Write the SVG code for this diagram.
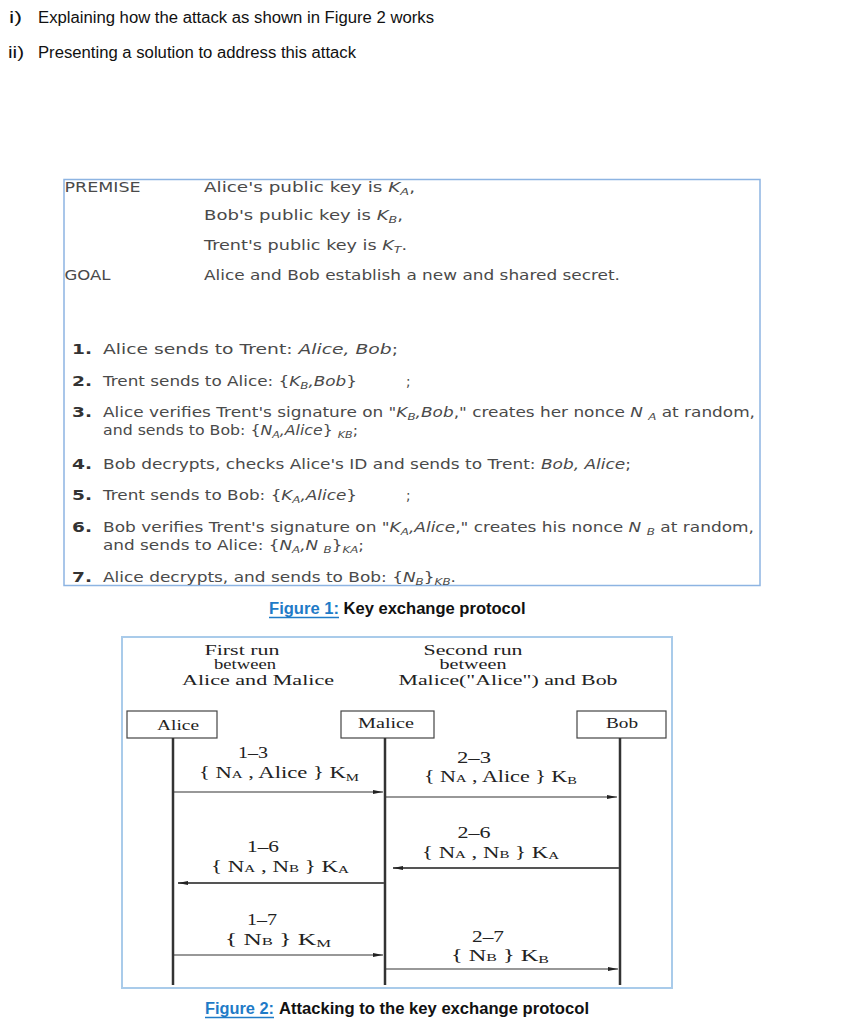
<svg xmlns="http://www.w3.org/2000/svg" width="851" height="1024" viewBox="0 0 851 1024">
<style>
.top{font-family:"Liberation Sans",Arial,sans-serif;font-size:16px;fill:#111}
.f1{font-family:"DejaVu Sans",Verdana,sans-serif;font-size:13.5px;fill:#4a4a4a}
.num{font-family:"DejaVu Sans",Verdana,sans-serif;font-size:13.5px;font-weight:bold;fill:#333}
.it{font-style:italic}
.s1{font-size:9.5px}
.cap{font-family:"Liberation Sans",Arial,sans-serif;font-size:16px;font-weight:bold;fill:#111}
.capb{fill:#1F7BC7}
.f2{font-family:"Liberation Serif","Times New Roman",serif;font-size:14.5px;fill:#222}
.lab{font-family:"Liberation Serif","Times New Roman",serif;font-size:16px;fill:#222}
.s2{font-size:10.5px}
.frame1{fill:none;stroke:#8DB4E2;stroke-width:1.5}
.frame2{fill:none;stroke:#A9CBEA;stroke-width:2}
.box{fill:#fff;stroke:#444;stroke-width:1.2}
.life{stroke:#333;stroke-width:2.5}
.msg{stroke:#333;stroke-width:1.2;fill:none}
.msgb{stroke:#555;stroke-width:1.8;fill:none}
</style>
<defs>
<marker id="ah" markerUnits="userSpaceOnUse" markerWidth="10" markerHeight="6" refX="10" refY="3" orient="auto">
<path d="M0,1 L10,3 L0,5 z" fill="#222"/>
</marker>
</defs>
<rect width="851" height="1024" fill="#fff"/>

<g id="intro">
<text class="top" x="9" y="23" textLength="13" lengthAdjust="spacingAndGlyphs">i)</text>
<text class="top" x="38" y="23" textLength="396" lengthAdjust="spacingAndGlyphs">Explaining how the attack as shown in Figure 2 works</text>
<text class="top" x="8" y="58" textLength="16" lengthAdjust="spacingAndGlyphs">ii)</text>
<text class="top" x="38" y="58" textLength="318" lengthAdjust="spacingAndGlyphs">Presenting a solution to address this attack</text>
</g>

<g id="figure1">
<rect class="frame1" x="64" y="179.5" width="696" height="406"/>
<text class="f1" x="64.5" y="192" textLength="76" lengthAdjust="spacingAndGlyphs">PREMISE</text>
<text class="f1" x="204" y="192" textLength="211" lengthAdjust="spacingAndGlyphs">Alice's public key is <tspan class="it">K</tspan><tspan class="it s1" dy="3">A</tspan><tspan dy="-3">,</tspan></text>
<text class="f1" x="204" y="220" textLength="199" lengthAdjust="spacingAndGlyphs">Bob's public key is <tspan class="it">K</tspan><tspan class="it s1" dy="3">B</tspan><tspan dy="-3">,</tspan></text>
<text class="f1" x="204" y="250" textLength="203" lengthAdjust="spacingAndGlyphs">Trent's public key is <tspan class="it">K</tspan><tspan class="it s1" dy="3">T</tspan><tspan dy="-3">.</tspan></text>
<text class="f1" x="64.5" y="280" textLength="46" lengthAdjust="spacingAndGlyphs">GOAL</text>
<text class="f1" x="204" y="280" textLength="416" lengthAdjust="spacingAndGlyphs">Alice and Bob establish a new and shared secret.</text>

<text class="num" x="72" y="354" textLength="20" lengthAdjust="spacingAndGlyphs">1.</text>
<text class="f1" x="103" y="354" textLength="295" lengthAdjust="spacingAndGlyphs">Alice sends to Trent: <tspan class="it">Alice, Bob</tspan>;</text>

<text class="num" x="72" y="386" textLength="20" lengthAdjust="spacingAndGlyphs">2.</text>
<text class="f1" x="103" y="386" textLength="254" lengthAdjust="spacingAndGlyphs">Trent sends to Alice: {<tspan class="it">K</tspan><tspan class="it s1" dy="3">B</tspan><tspan class="it" dy="-3">,Bob</tspan>}</text>
<text class="f1" x="406" y="386">;</text>

<text class="num" x="72" y="417" textLength="20" lengthAdjust="spacingAndGlyphs">3.</text>
<text class="f1" x="103" y="417" textLength="652" lengthAdjust="spacingAndGlyphs">Alice verifies Trent's signature on "<tspan class="it">K</tspan><tspan class="it s1" dy="3">B</tspan><tspan class="it" dy="-3">,Bob</tspan>," creates her nonce <tspan class="it">N </tspan><tspan class="it s1" dy="3">A</tspan><tspan dy="-3"> at random,</tspan></text>
<text class="f1" x="103" y="435" textLength="255" lengthAdjust="spacingAndGlyphs">and sends to Bob: {<tspan class="it">N</tspan><tspan class="it s1" dy="3">A</tspan><tspan class="it" dy="-3">,Alice</tspan>} <tspan class="it s1" dy="3">KB</tspan><tspan dy="-3">;</tspan></text>

<text class="num" x="72" y="469" textLength="20" lengthAdjust="spacingAndGlyphs">4.</text>
<text class="f1" x="103" y="469" textLength="528" lengthAdjust="spacingAndGlyphs">Bob decrypts, checks Alice's ID and sends to Trent: <tspan class="it">Bob, Alice</tspan>;</text>

<text class="num" x="72" y="500" textLength="20" lengthAdjust="spacingAndGlyphs">5.</text>
<text class="f1" x="103" y="500" textLength="254" lengthAdjust="spacingAndGlyphs">Trent sends to Bob: {<tspan class="it">K</tspan><tspan class="it s1" dy="3">A</tspan><tspan class="it" dy="-3">,Alice</tspan>}</text>
<text class="f1" x="406" y="500">;</text>

<text class="num" x="72" y="532" textLength="20" lengthAdjust="spacingAndGlyphs">6.</text>
<text class="f1" x="103" y="532" textLength="651" lengthAdjust="spacingAndGlyphs">Bob verifies Trent's signature on "<tspan class="it">K</tspan><tspan class="it s1" dy="3">A</tspan><tspan class="it" dy="-3">,Alice</tspan>," creates his nonce <tspan class="it">N </tspan><tspan class="it s1" dy="3">B</tspan><tspan dy="-3"> at random,</tspan></text>
<text class="f1" x="103" y="550" textLength="261" lengthAdjust="spacingAndGlyphs">and sends to Alice: {<tspan class="it">N</tspan><tspan class="it s1" dy="3">A</tspan><tspan class="it" dy="-3">,N </tspan><tspan class="it s1" dy="3">B</tspan><tspan dy="-3">}</tspan><tspan class="it s1" dy="3">KA</tspan><tspan dy="-3">;</tspan></text>

<text class="num" x="72" y="582" textLength="20" lengthAdjust="spacingAndGlyphs">7.</text>
<text class="f1" x="103" y="582" textLength="353" lengthAdjust="spacingAndGlyphs">Alice decrypts, and sends to Bob: {<tspan class="it">N</tspan><tspan class="it s1" dy="3">B</tspan><tspan dy="-3">}</tspan><tspan class="it s1" dy="3">KB</tspan><tspan dy="-3">.</tspan></text>
</g>

<g id="caption1">
<text class="cap capb" x="269" y="614" textLength="70" lengthAdjust="spacingAndGlyphs">Figure 1:</text>
<line x1="269" y1="617.5" x2="339" y2="617.5" stroke="#1F7BC7" stroke-width="1.3"/>
<text class="cap" x="343.5" y="614" textLength="182" lengthAdjust="spacingAndGlyphs">Key exchange protocol</text>
</g>

<g id="figure2-frame">
<rect class="frame2" x="122" y="637" width="550" height="351"/>
<text class="f2" x="242" y="655" text-anchor="middle" textLength="75" lengthAdjust="spacingAndGlyphs">First run</text>
<text class="f2" x="245" y="669" text-anchor="middle" textLength="62" lengthAdjust="spacingAndGlyphs">between</text>
<text class="f2" x="258" y="685" text-anchor="middle" textLength="152" lengthAdjust="spacingAndGlyphs">Alice and Malice</text>
<text class="f2" x="473" y="655" text-anchor="middle" textLength="99" lengthAdjust="spacingAndGlyphs">Second run</text>
<text class="f2" x="473" y="669" text-anchor="middle" textLength="67" lengthAdjust="spacingAndGlyphs">between</text>
<text class="f2" x="508" y="685" text-anchor="middle" textLength="219" lengthAdjust="spacingAndGlyphs">Malice("Alice") and Bob</text>
</g>

<g id="alice">
<rect class="box" x="127" y="711" width="90" height="27"/>
<text class="f2" x="178" y="730" text-anchor="middle" textLength="42" lengthAdjust="spacingAndGlyphs">Alice</text>
</g>
<g id="malice">
<rect class="box" x="341" y="711" width="93" height="27"/>
<text class="f2" x="386" y="728" text-anchor="middle" textLength="56" lengthAdjust="spacingAndGlyphs">Malice</text>
</g>
<g id="bob">
<rect class="box" x="577" y="711" width="89" height="27"/>
<text class="f2" x="622" y="728" text-anchor="middle" textLength="32" lengthAdjust="spacingAndGlyphs">Bob</text>
</g>

<g id="connectors">
<line class="life" x1="173" y1="738" x2="173" y2="985"/>
<line class="life" x1="385" y1="738" x2="385" y2="985"/>
<line class="life" x1="620" y1="738" x2="620" y2="985"/>
<line class="msg" x1="174" y1="792" x2="383" y2="792" marker-end="url(#ah)"/>
<line class="msg" x1="386" y1="797" x2="617" y2="797" marker-end="url(#ah)"/>
<line class="msgb" x1="619" y1="868" x2="393" y2="868" marker-end="url(#ah)"/>
<line class="msgb" x1="384" y1="883" x2="178" y2="883" marker-end="url(#ah)"/>
<line class="msg" x1="174" y1="955" x2="383" y2="955" marker-end="url(#ah)"/>
<line class="msg" x1="386" y1="969" x2="618" y2="969" marker-end="url(#ah)"/>

<text class="lab" x="253" y="758" text-anchor="middle" textLength="30" lengthAdjust="spacingAndGlyphs">1–3</text>
<text class="lab" x="199" y="778" textLength="160" lengthAdjust="spacingAndGlyphs">{ N<tspan class="s2">A</tspan> , Alice } K<tspan class="s2" dy="3">M</tspan></text>
<text class="lab" x="474" y="763" text-anchor="middle" textLength="34" lengthAdjust="spacingAndGlyphs">2–3</text>
<text class="lab" x="424" y="782" textLength="153" lengthAdjust="spacingAndGlyphs">{ N<tspan class="s2">A</tspan> , Alice } K<tspan class="s2" dy="2">B</tspan></text>
<text class="lab" x="474" y="838" text-anchor="middle" textLength="33" lengthAdjust="spacingAndGlyphs">2–6</text>
<text class="lab" x="422" y="858" textLength="137" lengthAdjust="spacingAndGlyphs">{ N<tspan class="s2">A</tspan> , N<tspan class="s2">B</tspan> } K<tspan class="s2" dy="1">A</tspan></text>
<text class="lab" x="263" y="852" text-anchor="middle" textLength="32" lengthAdjust="spacingAndGlyphs">1–6</text>
<text class="lab" x="211" y="872" textLength="138" lengthAdjust="spacingAndGlyphs">{ N<tspan class="s2">A</tspan> , N<tspan class="s2">B</tspan> } K<tspan class="s2" dy="1">A</tspan></text>
<text class="lab" x="262" y="925" text-anchor="middle" textLength="30" lengthAdjust="spacingAndGlyphs">1–7</text>
<text class="lab" x="225" y="945" textLength="106" lengthAdjust="spacingAndGlyphs">{  N<tspan class="s2">B</tspan> } K<tspan class="s2" dy="2">M</tspan></text>
<text class="lab" x="488" y="942" text-anchor="middle" textLength="32" lengthAdjust="spacingAndGlyphs">2–7</text>
<text class="lab" x="451" y="961" textLength="98" lengthAdjust="spacingAndGlyphs">{  N<tspan class="s2">B</tspan> } K<tspan class="s2" dy="2">B</tspan></text>
</g>

<g id="caption2">
<text class="cap capb" x="205" y="1014" textLength="69" lengthAdjust="spacingAndGlyphs">Figure 2:</text>
<line x1="205" y1="1017.5" x2="274" y2="1017.5" stroke="#1F7BC7" stroke-width="1.3"/>
<text class="cap" x="279" y="1014" textLength="310" lengthAdjust="spacingAndGlyphs">Attacking to the key exchange protocol</text>
</g>
</svg>
